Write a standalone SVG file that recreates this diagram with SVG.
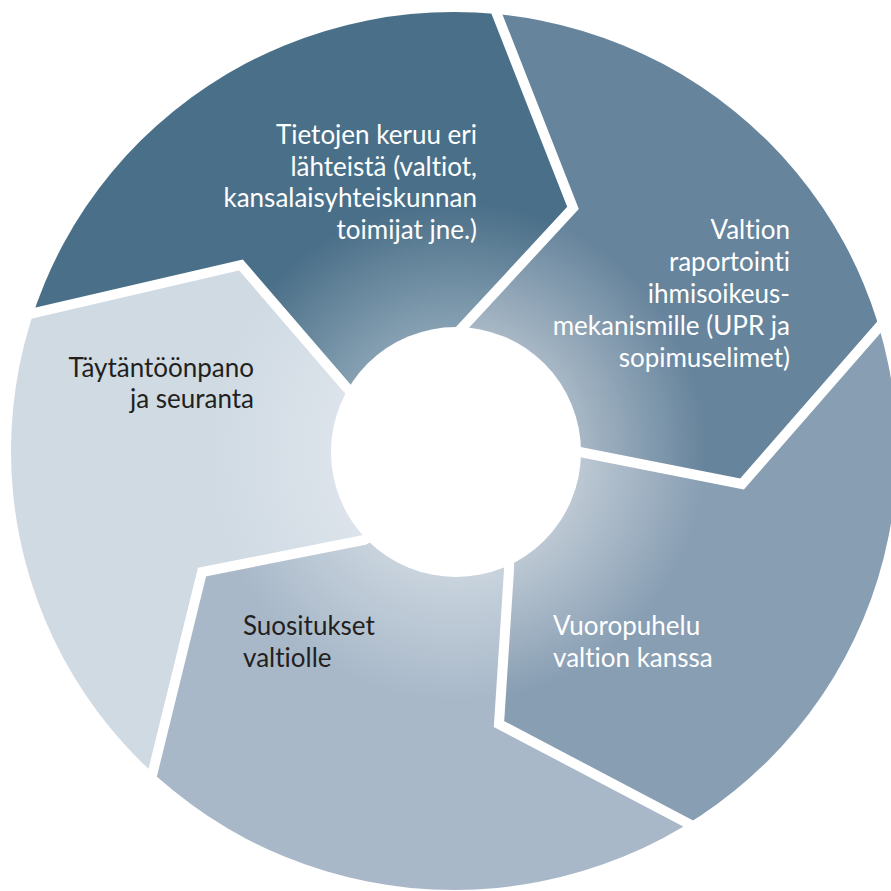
<svg xmlns="http://www.w3.org/2000/svg" width="891" height="891" viewBox="0 0 891 891">
<defs>
<clipPath id="ring"><ellipse cx="454" cy="451" rx="443" ry="439"/></clipPath>
<radialGradient id="g1" gradientUnits="userSpaceOnUse" cx="456" cy="452" r="320"><stop offset="0.39" stop-color="#86a0b2"/><stop offset="0.78" stop-color="#4a6f88"/></radialGradient>
<radialGradient id="g2" gradientUnits="userSpaceOnUse" cx="456" cy="452" r="320"><stop offset="0.39" stop-color="#a7b7c5"/><stop offset="0.78" stop-color="#66849c"/></radialGradient>
<radialGradient id="g3" gradientUnits="userSpaceOnUse" cx="456" cy="452" r="320"><stop offset="0.39" stop-color="#bcc8d3"/><stop offset="0.78" stop-color="#889eb3"/></radialGradient>
<radialGradient id="g4" gradientUnits="userSpaceOnUse" cx="456" cy="452" r="320"><stop offset="0.39" stop-color="#c8d3dd"/><stop offset="0.78" stop-color="#a8b8c9"/></radialGradient>
<radialGradient id="g5" gradientUnits="userSpaceOnUse" cx="456" cy="452" r="320"><stop offset="0.39" stop-color="#dce3ea"/><stop offset="0.78" stop-color="#cfdae3"/></radialGradient>
<style>
.lbl{font-family:Lato,"Open Sans","Liberation Sans",sans-serif;font-size:26px;font-variant-ligatures:none}
.w{fill:#ffffff}
.d{fill:#231f20}
.r{text-anchor:end}
.sep{fill:none;stroke:#ffffff;stroke-width:10;stroke-linejoin:miter;stroke-miterlimit:10}
</style>
</defs>
<rect width="891" height="891" fill="#ffffff"/>
<g clip-path="url(#ring)">
<g id="seg1">
<polygon points="456,452 347,388 241,265 -70,337 -70,-70 473,-47 573,208 460,330" fill="url(#g1)"/>
<text class="lbl w r"><tspan x="477" y="144">Tietojen keruu eri</tspan><tspan x="477" y="175.5">lähteistä (valtiot,</tspan><tspan x="477" y="207">kansalaisyhteiskunnan</tspan><tspan x="477" y="238.5">toimijat jne.)</tspan></text>
</g>
<g id="seg2">
<polygon points="456,452 460,330 573,208 473,-47 950,-70 928,271 742,484 580,452" fill="url(#g2)"/>
<text class="lbl w r"><tspan x="790" y="239">Valtion</tspan><tspan x="790" y="271">raportointi</tspan><tspan x="790" y="303">ihmisoikeus-</tspan><tspan x="790" y="335">mekanismille (UPR ja</tspan><tspan x="790" y="367">sopimuselimet)</tspan></text>
</g>
<g id="seg3">
<polygon points="456,452 580,452 742,484 928,271 950,950 786,875 499,724 509,570" fill="url(#g3)"/>
<text class="lbl w"><tspan x="553" y="635">Vuoropuhelu</tspan><tspan x="553" y="667">valtion kanssa</tspan></text>
</g>
<g id="seg4">
<polygon points="456,452 509,570 499,724 786,875 450,960 128,873 202,572 364,540" fill="url(#g4)"/>
<text class="lbl d"><tspan x="243" y="635">Suositukset</tspan><tspan x="243" y="667">valtiolle</tspan></text>
</g>
<g id="seg5">
<polygon points="456,452 364,540 202,572 128,873 -70,950 -70,337 241,265 347,388" fill="url(#g5)"/>
<text class="lbl d r"><tspan x="254" y="377">Täytäntöönpano</tspan><tspan x="254" y="408">ja seuranta</tspan></text>
</g>
</g>
<g id="separators">
<polyline class="sep" points="456,380 460,330 573,208 473,-47"/>
<polyline class="sep" points="520,452 580,452 742,484 928,271"/>
<polyline class="sep" points="510,520 509,570 499,724 786,875"/>
<polyline class="sep" points="400,520 364,540 202,572 128,873"/>
<polyline class="sep" points="400,440 347,388 241,265 -70,337"/>
</g>
<g id="hub">
<circle cx="456" cy="452" r="125" fill="#ffffff"/>
</g>
</svg>
